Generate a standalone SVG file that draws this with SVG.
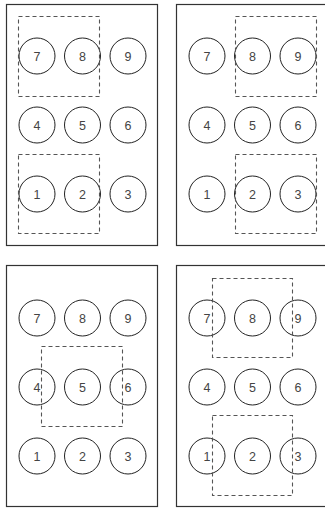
<svg xmlns="http://www.w3.org/2000/svg" width="325" height="508" viewBox="0 0 325 508">
<style>
.panel{fill:#fff;stroke:#333;stroke-width:1.2}
.c{fill:none;stroke:#222;stroke-width:1}
.t{font-family:"Liberation Sans",Arial,sans-serif;font-size:12.5px;fill:#444;text-anchor:middle;dominant-baseline:central}
.d{fill:none;stroke:#555;stroke-width:1.1;stroke-dasharray:4 3}
</style>
<defs>
<circle id="ring" class="c" cx="0" cy="0" r="18"/>
</defs>
<g id="panel1">
<rect class="panel" x="6.5" y="4.5" width="151" height="241"/>
<g id="p1n7" transform="translate(37,56)"><use href="#ring"/><text class="t" y="0.5">7</text></g>
<g id="p1n8" transform="translate(82.5,56)"><use href="#ring"/><text class="t" y="0.5">8</text></g>
<g id="p1n9" transform="translate(128,56)"><use href="#ring"/><text class="t" y="0.5">9</text></g>
<g id="p1n4" transform="translate(37,125)"><use href="#ring"/><text class="t" y="0.5">4</text></g>
<g id="p1n5" transform="translate(82.5,125)"><use href="#ring"/><text class="t" y="0.5">5</text></g>
<g id="p1n6" transform="translate(128,125)"><use href="#ring"/><text class="t" y="0.5">6</text></g>
<g id="p1n1" transform="translate(37,194)"><use href="#ring"/><text class="t" y="0.5">1</text></g>
<g id="p1n2" transform="translate(82.5,194)"><use href="#ring"/><text class="t" y="0.5">2</text></g>
<g id="p1n3" transform="translate(128,194)"><use href="#ring"/><text class="t" y="0.5">3</text></g>
<rect class="d" x="18.5" y="16.5" width="81" height="80"/>
<rect class="d" x="18.5" y="154.5" width="81" height="79"/>
</g>
<g id="panel2">
<rect class="panel" x="176.5" y="4.5" width="160" height="241"/>
<g id="p2n7" transform="translate(207,56)"><use href="#ring"/><text class="t" y="0.5">7</text></g>
<g id="p2n8" transform="translate(252.5,56)"><use href="#ring"/><text class="t" y="0.5">8</text></g>
<g id="p2n9" transform="translate(298,56)"><use href="#ring"/><text class="t" y="0.5">9</text></g>
<g id="p2n4" transform="translate(207,125)"><use href="#ring"/><text class="t" y="0.5">4</text></g>
<g id="p2n5" transform="translate(252.5,125)"><use href="#ring"/><text class="t" y="0.5">5</text></g>
<g id="p2n6" transform="translate(298,125)"><use href="#ring"/><text class="t" y="0.5">6</text></g>
<g id="p2n1" transform="translate(207,194)"><use href="#ring"/><text class="t" y="0.5">1</text></g>
<g id="p2n2" transform="translate(252.5,194)"><use href="#ring"/><text class="t" y="0.5">2</text></g>
<g id="p2n3" transform="translate(298,194)"><use href="#ring"/><text class="t" y="0.5">3</text></g>
<rect class="d" x="235.5" y="16.5" width="81" height="80"/>
<rect class="d" x="235.5" y="154.5" width="81" height="79"/>
</g>
<g id="panel3">
<rect class="panel" x="6.5" y="265.5" width="151" height="241"/>
<g id="p3n7" transform="translate(37,318)"><use href="#ring"/><text class="t" y="0.5">7</text></g>
<g id="p3n8" transform="translate(82.5,318)"><use href="#ring"/><text class="t" y="0.5">8</text></g>
<g id="p3n9" transform="translate(128,318)"><use href="#ring"/><text class="t" y="0.5">9</text></g>
<g id="p3n4" transform="translate(37,387)"><use href="#ring"/><text class="t" y="0.5">4</text></g>
<g id="p3n5" transform="translate(82.5,387)"><use href="#ring"/><text class="t" y="0.5">5</text></g>
<g id="p3n6" transform="translate(128,387)"><use href="#ring"/><text class="t" y="0.5">6</text></g>
<g id="p3n1" transform="translate(37,456)"><use href="#ring"/><text class="t" y="0.5">1</text></g>
<g id="p3n2" transform="translate(82.5,456)"><use href="#ring"/><text class="t" y="0.5">2</text></g>
<g id="p3n3" transform="translate(128,456)"><use href="#ring"/><text class="t" y="0.5">3</text></g>
<rect class="d" x="41.5" y="346.5" width="81" height="80"/>
</g>
<g id="panel4">
<rect class="panel" x="176.5" y="265.5" width="160" height="241"/>
<g id="p4n7" transform="translate(207,318)"><use href="#ring"/><text class="t" y="0.5">7</text></g>
<g id="p4n8" transform="translate(252.5,318)"><use href="#ring"/><text class="t" y="0.5">8</text></g>
<g id="p4n9" transform="translate(298,318)"><use href="#ring"/><text class="t" y="0.5">9</text></g>
<g id="p4n4" transform="translate(207,387)"><use href="#ring"/><text class="t" y="0.5">4</text></g>
<g id="p4n5" transform="translate(252.5,387)"><use href="#ring"/><text class="t" y="0.5">5</text></g>
<g id="p4n6" transform="translate(298,387)"><use href="#ring"/><text class="t" y="0.5">6</text></g>
<g id="p4n1" transform="translate(207,456)"><use href="#ring"/><text class="t" y="0.5">1</text></g>
<g id="p4n2" transform="translate(252.5,456)"><use href="#ring"/><text class="t" y="0.5">2</text></g>
<g id="p4n3" transform="translate(298,456)"><use href="#ring"/><text class="t" y="0.5">3</text></g>
<rect class="d" x="212.5" y="278.5" width="80" height="79"/>
<rect class="d" x="212.5" y="415.5" width="80" height="80"/>
</g>
</svg>
